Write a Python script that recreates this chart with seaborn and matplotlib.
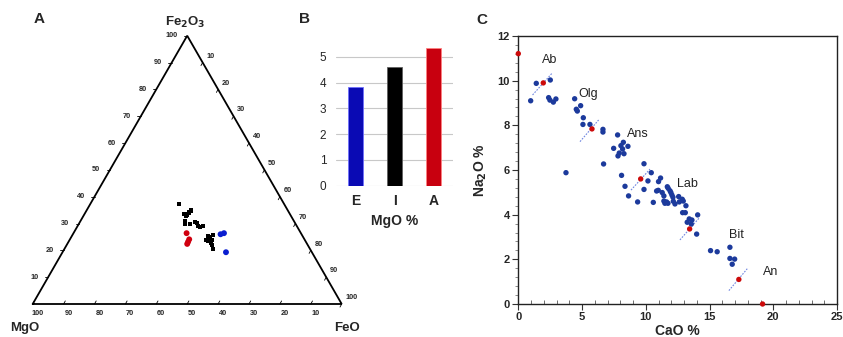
import numpy as np
import pandas as pd
import matplotlib
matplotlib.use("Agg")
import matplotlib.pyplot as plt
from matplotlib.ticker import MultipleLocator
import seaborn as sns

sns.set_theme(style="white")
plt.rcParams['font.family'] = ['Liberation Sans', 'DejaVu Sans']

# ---------------- Panel A: ternary (Fe2O3 - FeO - MgO), percent ----------------
black_fe2o3 = [37.3, 33.6, 32.8, 33.3, 34.1, 34.8, 35.1, 31.0, 29.9, 29.7, 30.7, 30.1,
               29.1, 28.6, 29.2, 25.1, 25.7, 25.4, 23.6, 22.9, 23.9, 22.0, 20.4, 23.9]
black_feo = [28.8, 32.3, 33.2, 33.4, 33.6, 33.8, 33.6, 33.8, 34.4, 36.0, 37.2, 38.0,
             39.0, 39.8, 40.6, 44.8, 45.4, 44.1, 45.0, 46.2, 46.2, 46.9, 48.2, 44.0]
black_mgo = [33.9, 34.1, 34.0, 33.3, 32.3, 31.4, 31.3, 35.2, 35.7, 34.3, 32.1, 31.9,
             31.9, 31.6, 30.2, 30.1, 28.9, 30.5, 31.4, 30.9, 29.9, 31.1, 31.4, 32.1]
red_fe2o3 = [26.4, 24.1, 23.2, 22.4]
red_feo = [36.6, 38.6, 38.7, 38.8]
red_mgo = [37.0, 37.3, 38.1, 38.8]
blue_fe2o3 = [26.0, 26.4, 19.3]
blue_feo = [47.8, 48.7, 52.9]
blue_mgo = [26.2, 24.9, 27.8]
tern_ticks = [10, 20, 30, 40, 50, 60, 70, 80, 90, 100]

# ---------------- Panel B: bars ----------------
bar_groups = ["E", "I", "A"]
bar_values = [3.81, 4.61, 5.35]
bar_colors = ["#0a0ab4", "#000000", "#c8000f"]

# ---------------- Panel C: CaO vs Na2O ----------------
blue_cao = [0.97, 1.41, 2.51, 2.38, 2.48, 2.75, 2.95, 3.74, 4.42, 4.55, 4.63, 4.89, 5.10, 5.07,
            5.62, 6.64, 6.64, 6.69, 7.79, 7.48, 8.05, 8.24, 8.18, 7.92, 7.82, 8.29, 8.60, 8.10,
            8.37, 8.65, 9.36, 9.86, 9.86, 10.17, 10.43, 10.59, 10.85, 11.00, 11.16, 10.98, 11.29,
            11.42, 11.69, 11.76, 11.90, 11.97, 12.05, 12.13, 11.42, 11.50, 11.63, 11.74, 12.16,
            12.29, 12.58, 12.63, 12.86, 12.94, 13.15, 12.89, 13.10, 13.25, 13.41, 13.57, 13.62,
            14.07, 13.99, 15.08, 15.60, 16.60, 16.60, 16.97, 16.78]
blue_na2o = [9.10, 9.88, 10.03, 9.24, 9.13, 9.04, 9.18, 5.88, 9.19, 8.72, 8.64, 8.88, 8.34, 8.04,
             8.04, 7.82, 7.70, 6.27, 7.57, 6.97, 7.09, 7.24, 6.94, 6.76, 6.63, 6.73, 7.06, 5.76,
             5.27, 4.84, 4.57, 6.28, 5.13, 5.51, 5.88, 4.55, 5.06, 5.48, 5.64, 5.09, 4.99,
             4.84, 5.25, 5.18, 5.07, 4.99, 4.88, 4.78, 4.61, 4.51, 4.57, 4.51, 4.60,
             4.48, 4.81, 4.57, 4.69, 4.61, 4.40, 4.09, 4.09, 3.66, 3.81, 3.58, 3.76,
             3.99, 3.13, 2.39, 2.34, 2.54, 2.04, 2.01, 1.78]
red_cao = [0.00, 1.96, 5.78, 9.60, 13.44, 17.30, 19.16]
red_na2o = [11.21, 9.90, 7.84, 5.60, 3.36, 1.10, 0.00]
seg_cao_start = [1.12, 4.84, 8.84, 12.68, 16.52]
seg_cao_end = [2.64, 6.30, 10.33, 14.17, 17.96]
seg_na2o_start = [9.36, 7.27, 5.10, 2.87, 0.60]
seg_na2o_end = [10.33, 8.24, 6.04, 3.84, 1.58]
mineral_names = ["Ab", "Olg", "Ans", "Lab", "Bit", "An"]
mineral_cao = [2.48, 5.49, 9.36, 13.25, 17.12, 19.80]
mineral_na2o = [10.93, 9.40, 7.61, 5.36, 3.07, 1.45]

W, H = 843, 337
fig = plt.figure(figsize=(W / 100, H / 100), dpi=100)
fig.patch.set_facecolor("white")


def box(x0, y0, x1, y1):
    """pixel box (left, top, right, bottom) -> figure fraction rect"""
    return [x0 / W, 1 - y1 / H, (x1 - x0) / W, (y1 - y0) / H]


def ftxt(x, y, s, **kw):
    fig.text(x / W, 1 - y / H, s, **kw)


# ======================= Panel A ========================
h = np.sqrt(3) / 2
axA = fig.add_axes(box(32.7, 35.7, 341.7, 304))
axA.set_xlim(0, 1)
axA.set_ylim(0, h)
axA.axis("off")
axA.plot([0, 1, 0.5, 0], [0, 0, h, 0], color="black", lw=1.3, clip_on=False, solid_joinstyle="miter")


def tern_xy(fe2o3, feo):
    t = np.asarray(fe2o3) / 100.0
    f = np.asarray(feo) / 100.0
    return f + t / 2, t * h


frames = []
for name, T, F, M in [("I", black_fe2o3, black_feo, black_mgo),
                      ("A", red_fe2o3, red_feo, red_mgo),
                      ("E", blue_fe2o3, blue_feo, blue_mgo)]:
    x, y = tern_xy(T, F)
    frames.append(pd.DataFrame({"x": x, "y": y, "grp": name}))
tdf = pd.concat(frames, ignore_index=True)
sns.scatterplot(data=tdf[tdf.grp == "I"], x="x", y="y", ax=axA, marker="s", s=9,
                color="black", edgecolor="none", legend=False, clip_on=False)
sns.scatterplot(data=tdf[tdf.grp == "A"], x="x", y="y", ax=axA, marker="o", s=18,
                color="#d0000f", edgecolor="none", legend=False, clip_on=False)
sns.scatterplot(data=tdf[tdf.grp == "E"], x="x", y="y", ax=axA, marker="o", s=18,
                color="#0a1ed0", edgecolor="none", legend=False, clip_on=False)
axA.set_xlabel("")
axA.set_ylabel("")

tk = 0.011
tfs = 5.3
for v in tern_ticks:
    f = v / 100.0
    # left edge: Fe2O3
    px, py = f / 2, f * h
    axA.plot([px - tk, px], [py, py], color="black", lw=0.6, clip_on=False)
    axA.annotate(str(v), (px, py), xytext=(-7, 0), textcoords="offset points",
                 ha="right", va="center", fontsize=tfs, fontweight="bold")
    # right edge: FeO
    px, py = 0.5 + f / 2, (1 - f) * h
    axA.plot([px, px - tk * 0.5], [py, py - tk * 0.9], color="black", lw=0.6, clip_on=False)
    axA.annotate(str(v), (px, py), xytext=(2.5, 4.5), textcoords="offset points",
                 ha="left", va="center", fontsize=tfs, fontweight="bold")
    # bottom edge: MgO
    px, py = 1 - f, 0
    axA.plot([px, px + tk * 0.5], [py, py + tk * 0.9], color="black", lw=0.6, clip_on=False)
    axA.annotate(str(v), (px, py), xytext=(3.5, -6.5), textcoords="offset points",
                 ha="center", va="center", fontsize=tfs, fontweight="bold")

ftxt(39, 19, "A", fontsize=11, fontweight="bold", ha="center", va="center")
ftxt(185, 22, r"Fe$_\mathbf{2}$O$_\mathbf{3}$", fontsize=9.5, fontweight="bold", ha="center", va="center")
ftxt(25, 328, "MgO", fontsize=9.5, fontweight="bold", ha="center", va="center")
ftxt(347, 328, "FeO", fontsize=9.5, fontweight="bold", ha="center", va="center")

# ======================= Panel B ========================
ymaxB = 5.6
axB = fig.add_axes(box(336, 185.7 - ymaxB * 25.8, 453, 185.7))
bdf = pd.DataFrame({"grp": bar_groups, "val": bar_values})
sns.barplot(data=bdf, x="grp", y="val", hue="grp", palette=bar_colors, width=0.38,
            saturation=1, ax=axB, legend=False, linewidth=0.6)
for p, c in zip(axB.patches, ["#7070ff", "#606060", "#ff8080"]):
    p.set_edgecolor(c)
axB.set_xlim(-0.5, 2.5)
axB.set_ylim(0, ymaxB)
axB.set_yticks([0, 1, 2, 3, 4, 5])
axB.yaxis.grid(True, color="#c8c8c8", lw=0.8)
axB.set_axisbelow(True)
for s in axB.spines.values():
    s.set_visible(False)
axB.tick_params(axis="y", length=0, pad=7, labelsize=8.5)
axB.tick_params(axis="x", length=0, pad=6, labelsize=10)
for lab in axB.get_xticklabels():
    lab.set_fontweight("bold")
axB.set_xlabel("MgO %", fontsize=10, fontweight="bold", labelpad=4)
axB.set_ylabel("")
ftxt(304, 19, "B", fontsize=11, fontweight="bold", ha="center", va="center")

# ======================= Panel C ========================
axC = fig.add_axes(box(518.3, 36, 837, 304))
cdf_b = pd.DataFrame({"CaO": blue_cao, "Na2O": blue_na2o})
cdf_r = pd.DataFrame({"CaO": red_cao, "Na2O": red_na2o})
for xs, xe, ys, ye in zip(seg_cao_start, seg_cao_end, seg_na2o_start, seg_na2o_end):
    axC.plot([xs, xe], [ys, ye], color="#6f86e0", lw=0.8, ls=(0, (1.5, 1.2)), zorder=2)
sns.scatterplot(data=cdf_b, x="CaO", y="Na2O", ax=axC, s=15, color="#1c3a9c",
                edgecolor="none", legend=False, zorder=3, clip_on=False)
sns.scatterplot(data=cdf_r, x="CaO", y="Na2O", ax=axC, s=15, color="#cc0a0a",
                edgecolor="none", legend=False, zorder=4, clip_on=False)
for n, xv, yv in zip(mineral_names, mineral_cao, mineral_na2o):
    axC.text(xv, yv, n, fontsize=9, ha="center", va="center", color="#222222")
axC.set_xlim(0, 25)
axC.set_ylim(0, 12)
axC.xaxis.set_major_locator(MultipleLocator(5))
axC.xaxis.set_minor_locator(MultipleLocator(1))
axC.yaxis.set_major_locator(MultipleLocator(2))
axC.yaxis.set_minor_locator(MultipleLocator(0.4))
for s in axC.spines.values():
    s.set_visible(True)
    s.set_color("#222222")
    s.set_linewidth(1.0)
axC.tick_params(axis="both", which="major", labelsize=8, length=4, width=0.8, color="#333333", pad=2)
axC.tick_params(axis="x", which="major", direction="out", bottom=True)
axC.tick_params(axis="x", which="minor", direction="in", length=3, width=0.6, bottom=True, color="#555555")
axC.tick_params(axis="y", which="major", direction="out", left=True)
axC.tick_params(axis="y", which="minor", direction="out", length=2.5, width=0.6, left=True, color="#777777")
for lab in axC.get_xticklabels() + axC.get_yticklabels():
    lab.set_fontweight("bold")
axC.set_xlabel("CaO %", fontsize=10, fontweight="bold", labelpad=1)
axC.set_ylabel(r"Na$_\mathbf{2}$O %", fontsize=10, fontweight="bold", labelpad=6)
ftxt(482, 20, "C", fontsize=11, fontweight="bold", ha="center", va="center")

fig.savefig("out.png", dpi=100, facecolor="white")
